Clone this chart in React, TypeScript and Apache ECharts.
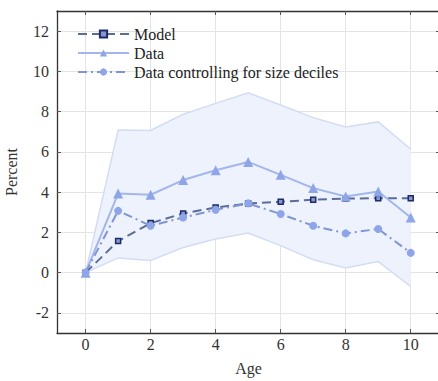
import React, { useEffect, useRef } from "react";
import * as echarts from "echarts";

const ages = [0, 1, 2, 3, 4, 5, 6, 7, 8, 9, 10];
const modelVals = [0, 1.57, 2.46, 2.94, 3.24, 3.43, 3.52, 3.62, 3.68, 3.7, 3.7];
const dataVals = [0, 3.93, 3.87, 4.6, 5.09, 5.5, 4.86, 4.2, 3.78, 4.03, 2.74];
const ctrlVals = [0, 3.07, 2.33, 2.74, 3.12, 3.44, 2.91, 2.33, 1.95, 2.17, 0.98];
const bandUpper = [0, 7.09, 7.06, 7.87, 8.41, 8.94, 8.33, 7.7, 7.24, 7.49, 6.13];
const bandLower = [0, 0.73, 0.6, 1.25, 1.67, 1.97, 1.34, 0.64, 0.23, 0.55, -0.69];
const xTicks = [0, 2, 4, 6, 8, 10];
const yTicks = [-2, 0, 2, 4, 6, 8, 10, 12];

const FONT = "'Liberation Serif', 'DejaVu Serif', serif";

export default function App() {
  const ref = useRef<HTMLDivElement>(null);
  useEffect(() => {
    if (!ref.current) return;
    const chart = echarts.init(ref.current, null, { renderer: "svg" });
    const pairs = (vals: number[]) => ages.map((a, i) => [a, vals[i]]);
    const xBase = {
      type: "value",
      min: -0.88,
      max: 10.9,
      axisLine: { show: true, onZero: false, lineStyle: { color: "#333", width: 1.3 } },
      axisTick: { show: true, inside: true, length: 4, customValues: xTicks, lineStyle: { color: "#555" } },
      axisLabel: { show: true, customValues: xTicks, fontFamily: FONT, fontSize: 16, color: "#333", margin: 3 },
      splitLine: { show: true, lineStyle: { color: "#e4e4e4", width: 1 } },
    };
    const yBase = {
      type: "value",
      min: -3,
      max: 13,
      axisLine: { show: true, onZero: false, lineStyle: { color: "#333", width: 1.3 } },
      axisTick: { show: true, inside: true, length: 4, customValues: yTicks, lineStyle: { color: "#555" } },
      axisLabel: { show: true, customValues: yTicks, fontFamily: FONT, fontSize: 16, color: "#333", margin: 8 },
      splitLine: { show: true, lineStyle: { color: "#e4e4e4", width: 1 } },
    };
    chart.setOption({
      animation: false,
      backgroundColor: "#ffffff",
      textStyle: { fontFamily: FONT },
      grid: { left: 57, top: 11, width: 383, height: 322, containLabel: false, outerBoundsMode: "none" },
      xAxis: [
        {
          ...xBase,
          position: "bottom",
          name: "Age",
          nameLocation: "middle",
          nameGap: 27,
          nameTextStyle: { fontFamily: FONT, fontSize: 16, color: "#333" },
        },
        {
          ...xBase,
          position: "top",
          axisLabel: { show: false },
          splitLine: { show: false },
        },
      ],
      yAxis: [
        {
          ...yBase,
          position: "left",
          name: "Percent",
          nameLocation: "middle",
          nameGap: 38,
          nameTextStyle: { fontFamily: FONT, fontSize: 16, color: "#333" },
        },
        {
          ...yBase,
          position: "right",
          axisLabel: { show: false },
          splitLine: { show: false },
        },
      ],
      legend: {
        data: ["Model", "Data", "Data controlling for size deciles"],
        orient: "vertical",
        left: 77,
        top: 26,
        padding: 0,
        itemWidth: 51,
        itemHeight: 9,
        itemGap: 3,
        textStyle: { fontFamily: FONT, fontSize: 16, color: "#222" },
      },
      series: [
        {
          name: "band",
          type: "custom",
          silent: true,
          z: 1,
          data: ages.map((a, i) => [a, bandLower[i], bandUpper[i]]),
          encode: { x: 0, y: [1, 2] },
          renderItem: (params: any, api: any) => {
            if (params.dataIndex !== 0) return null;
            const up: number[][] = [];
            const lo: number[][] = [];
            for (let i = 0; i < ages.length; i++) {
              up.push(api.coord([ages[i], bandUpper[i]]));
              lo.push(api.coord([ages[i], bandLower[i]]));
            }
            const poly = up.concat(lo.slice().reverse());
            return {
              type: "group",
              children: [
                { type: "polygon", shape: { points: poly }, style: { fill: "#eef2fc", stroke: "none" } },
                { type: "polyline", shape: { points: up }, style: { fill: "none", stroke: "#d3dcf4", lineWidth: 1.5 } },
                { type: "polyline", shape: { points: lo }, style: { fill: "none", stroke: "#d3dcf4", lineWidth: 1.5 } },
              ],
            };
          },
        },
        {
          name: "Model",
          type: "line",
          data: pairs(modelVals),
          symbol: "rect",
          symbolSize: 5,
          lineStyle: { color: "#5b6b9c", width: 2, type: [9, 5] },
          itemStyle: { color: "#8797c8", borderColor: "#1d2b6b", borderWidth: 1.5 },
          z: 3,
        },
        {
          name: "Data",
          type: "line",
          data: pairs(dataVals),
          symbol: "triangle",
          symbolSize: 10,
          lineStyle: { color: "#a3b6ec", width: 2 },
          itemStyle: { color: "#8ea6e8" },
          z: 4,
        },
        {
          name: "Data controlling for size deciles",
          type: "line",
          data: pairs(ctrlVals),
          symbol: "circle",
          symbolSize: 8,
          lineStyle: { color: "#7f95d4", width: 2, type: [9, 4, 2, 4] },
          itemStyle: { color: "#8ea6e8" },
          z: 5,
        },
      ],
    });
    return () => chart.dispose();
  }, []);
  return (
    <div
      ref={ref}
      style={{ position: "fixed", left: 0, top: 0, width: 438, height: 381, background: "#fff" }}
    />
  );
}
